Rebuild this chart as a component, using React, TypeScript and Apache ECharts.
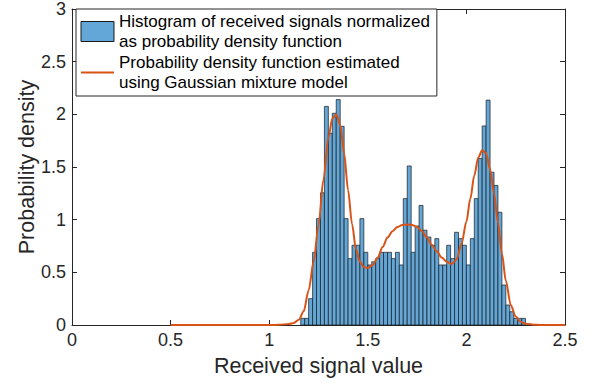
import React, { useEffect, useRef } from "react";
import * as echarts from "echarts";

// Histogram (bin width 0.02, first bin starts at 1.16), density per bin
const binStart = 1.16;
const binWidth = 0.02;
const densities = [
  0.063, 0.063, 0.25, 0.69, 1.01, 1.255, 2.075, 1.82, 2.01, 2.14,
  1.886, 1.01, 0.63, 0.757, 0.757, 1.01, 0.69, 0.57, 0.6, 0.63,
  0.69, 0.69, 0.69, 0.63, 0.69, 0.57, 1.2, 1.51, 0.69, 0.94,
  1.135, 0.9, 0.835, 0.757, 0.82, 0.57, 0.57, 0.757, 0.63, 0.88,
  0.82, 0.757, 0.57, 0.82, 1.2, 1.58, 1.89, 2.135, 1.45, 1.325,
  1.07, 0.38, 0.19, 0.126, 0.063, 0.063, 0.063,
];

// Gaussian mixture PDF curve
const curveX = [
  0.5, 0.8, 1.0, 1.05, 1.1, 1.125, 1.15, 1.175, 1.2, 1.225, 1.25, 1.275, 1.3, 1.32,
  1.34, 1.36, 1.38, 1.4, 1.42, 1.44, 1.46, 1.48, 1.5, 1.525, 1.55, 1.575, 1.6, 1.625,
  1.65, 1.675, 1.7, 1.725, 1.75, 1.775, 1.8, 1.825, 1.85, 1.875, 1.9, 1.925, 1.95,
  1.975, 2.0, 2.02, 2.04, 2.06, 2.08, 2.1, 2.12, 2.14, 2.16, 2.18, 2.2, 2.225, 2.25,
  2.275, 2.3, 2.35, 2.4, 2.5,
];
const curveY = [
  0, 0, 0, 0.002, 0.01, 0.02, 0.05, 0.13, 0.33, 0.6, 0.95, 1.38, 1.78, 1.96,
  2.0, 1.9, 1.63, 1.28, 0.96, 0.72, 0.6, 0.55, 0.54, 0.57, 0.64, 0.74, 0.83, 0.89,
  0.93, 0.95, 0.955, 0.95, 0.93, 0.89, 0.83, 0.76, 0.7, 0.64, 0.6, 0.58, 0.62,
  0.77, 0.98, 1.2, 1.42, 1.59, 1.66, 1.63, 1.48, 1.25, 0.97, 0.68, 0.42, 0.19, 0.08,
  0.03, 0.012, 0.002, 0, 0,
];

const xTicks = { min: 0, max: 2.5, interval: 0.5 };
const yTicks = { min: 0, max: 3, interval: 0.5 };

const histName = "Histogram of received signals normalized\nas probability density function";
const curveName = "Probability density function estimated\nusing Gaussian mixture model";
const xTitle = "Received signal value";
const yTitle = "Probability density";

const FONT = "'Liberation Sans', Arial, Helvetica, sans-serif";
const AX = "#262626";
const BAR = "#62A7D7";
const LINE = "#D95319";

export default function App() {
  const ref = useRef<HTMLDivElement>(null);
  useEffect(() => {
    if (!ref.current) return;
    const chart = echarts.init(ref.current, null, { renderer: "svg" });
    const histData = densities.map((d, i) => [
      binStart + i * binWidth,
      binStart + (i + 1) * binWidth,
      d,
    ]);
    const curveData = curveX.map((x, i) => [x, curveY[i]]);
    const axisCommon = {
      type: "value" as const,
      splitLine: { show: false },
      axisLine: { show: true, onZero: false, lineStyle: { color: AX, width: 1 } },
      axisTick: { show: true, inside: true, length: 5, lineStyle: { color: AX } },
    };
    chart.setOption({
      animation: false,
      grid: { left: 72, right: 28, top: 8, bottom: 64, containLabel: false },
      xAxis: [
        {
          ...axisCommon,
          ...xTicks,
          position: "bottom",
          name: xTitle,
          nameLocation: "middle",
          nameGap: 30,
          nameTextStyle: { fontSize: 21.5, color: AX, fontFamily: FONT },
          axisLabel: { fontSize: 18, color: AX, fontFamily: FONT, margin: 6 },
        },
        {
          ...axisCommon,
          ...xTicks,
          position: "top",
          axisLabel: { show: false },
        },
      ],
      yAxis: [
        {
          ...axisCommon,
          ...yTicks,
          position: "left",
          name: yTitle,
          nameLocation: "middle",
          nameGap: 34,
          nameMoveOverlap: false,
          nameTextStyle: { fontSize: 21.5, color: AX, fontFamily: FONT },
          axisLabel: { fontSize: 18, color: AX, fontFamily: FONT, margin: 6 },
        },
        {
          ...axisCommon,
          ...yTicks,
          position: "right",
          axisLabel: { show: false },
        },
      ],
      legend: {
        orient: "vertical",
        left: 76,
        top: 9,
        itemWidth: 33,
        itemHeight: 20,
        itemGap: 0,
        padding: [2, 7, 3, 4],
        borderColor: AX,
        borderWidth: 1,
        backgroundColor: "#ffffff",
        selectedMode: false,
        textStyle: { fontSize: 17, lineHeight: 20.5, color: "#000", fontFamily: FONT },
        data: [
          {
            name: histName,
            icon: "rect",
            itemStyle: { color: BAR, borderColor: "#1a1a1a", borderWidth: 1 },
          },
          {
            name: curveName,
            itemStyle: { opacity: 0 },
            lineStyle: { color: LINE, width: 2, opacity: 1 },
          },
        ],
      },
      series: [
        {
          name: histName,
          type: "custom",
          xAxisIndex: 0,
          yAxisIndex: 0,
          z: 2,
          itemStyle: { color: BAR },
          encode: { x: [0, 1], y: 2 },
          data: histData,
          renderItem: (params: any, api: any) => {
            const p0 = api.coord([api.value(0), api.value(2)]);
            const p1 = api.coord([api.value(1), 0]);
            return {
              type: "rect",
              shape: { x: p0[0], y: p0[1], width: p1[0] - p0[0], height: p1[1] - p0[1] },
              style: { fill: BAR, stroke: "#1a1a1a", lineWidth: 0.7 },
            };
          },
        },
        {
          name: curveName,
          type: "line",
          xAxisIndex: 0,
          yAxisIndex: 0,
          z: 3,
          symbol: "none",
          smooth: 0.3,
          smoothMonotone: "x",
          lineStyle: { color: LINE, width: 2 },
          itemStyle: { color: LINE },
          data: curveData,
        },
      ],
    });
    return () => chart.dispose();
  }, []);
  return (
    <div
      ref={ref}
      style={{ position: "absolute", left: 0, top: 0, width: 593, height: 389, background: "#fff" }}
    />
  );
}
